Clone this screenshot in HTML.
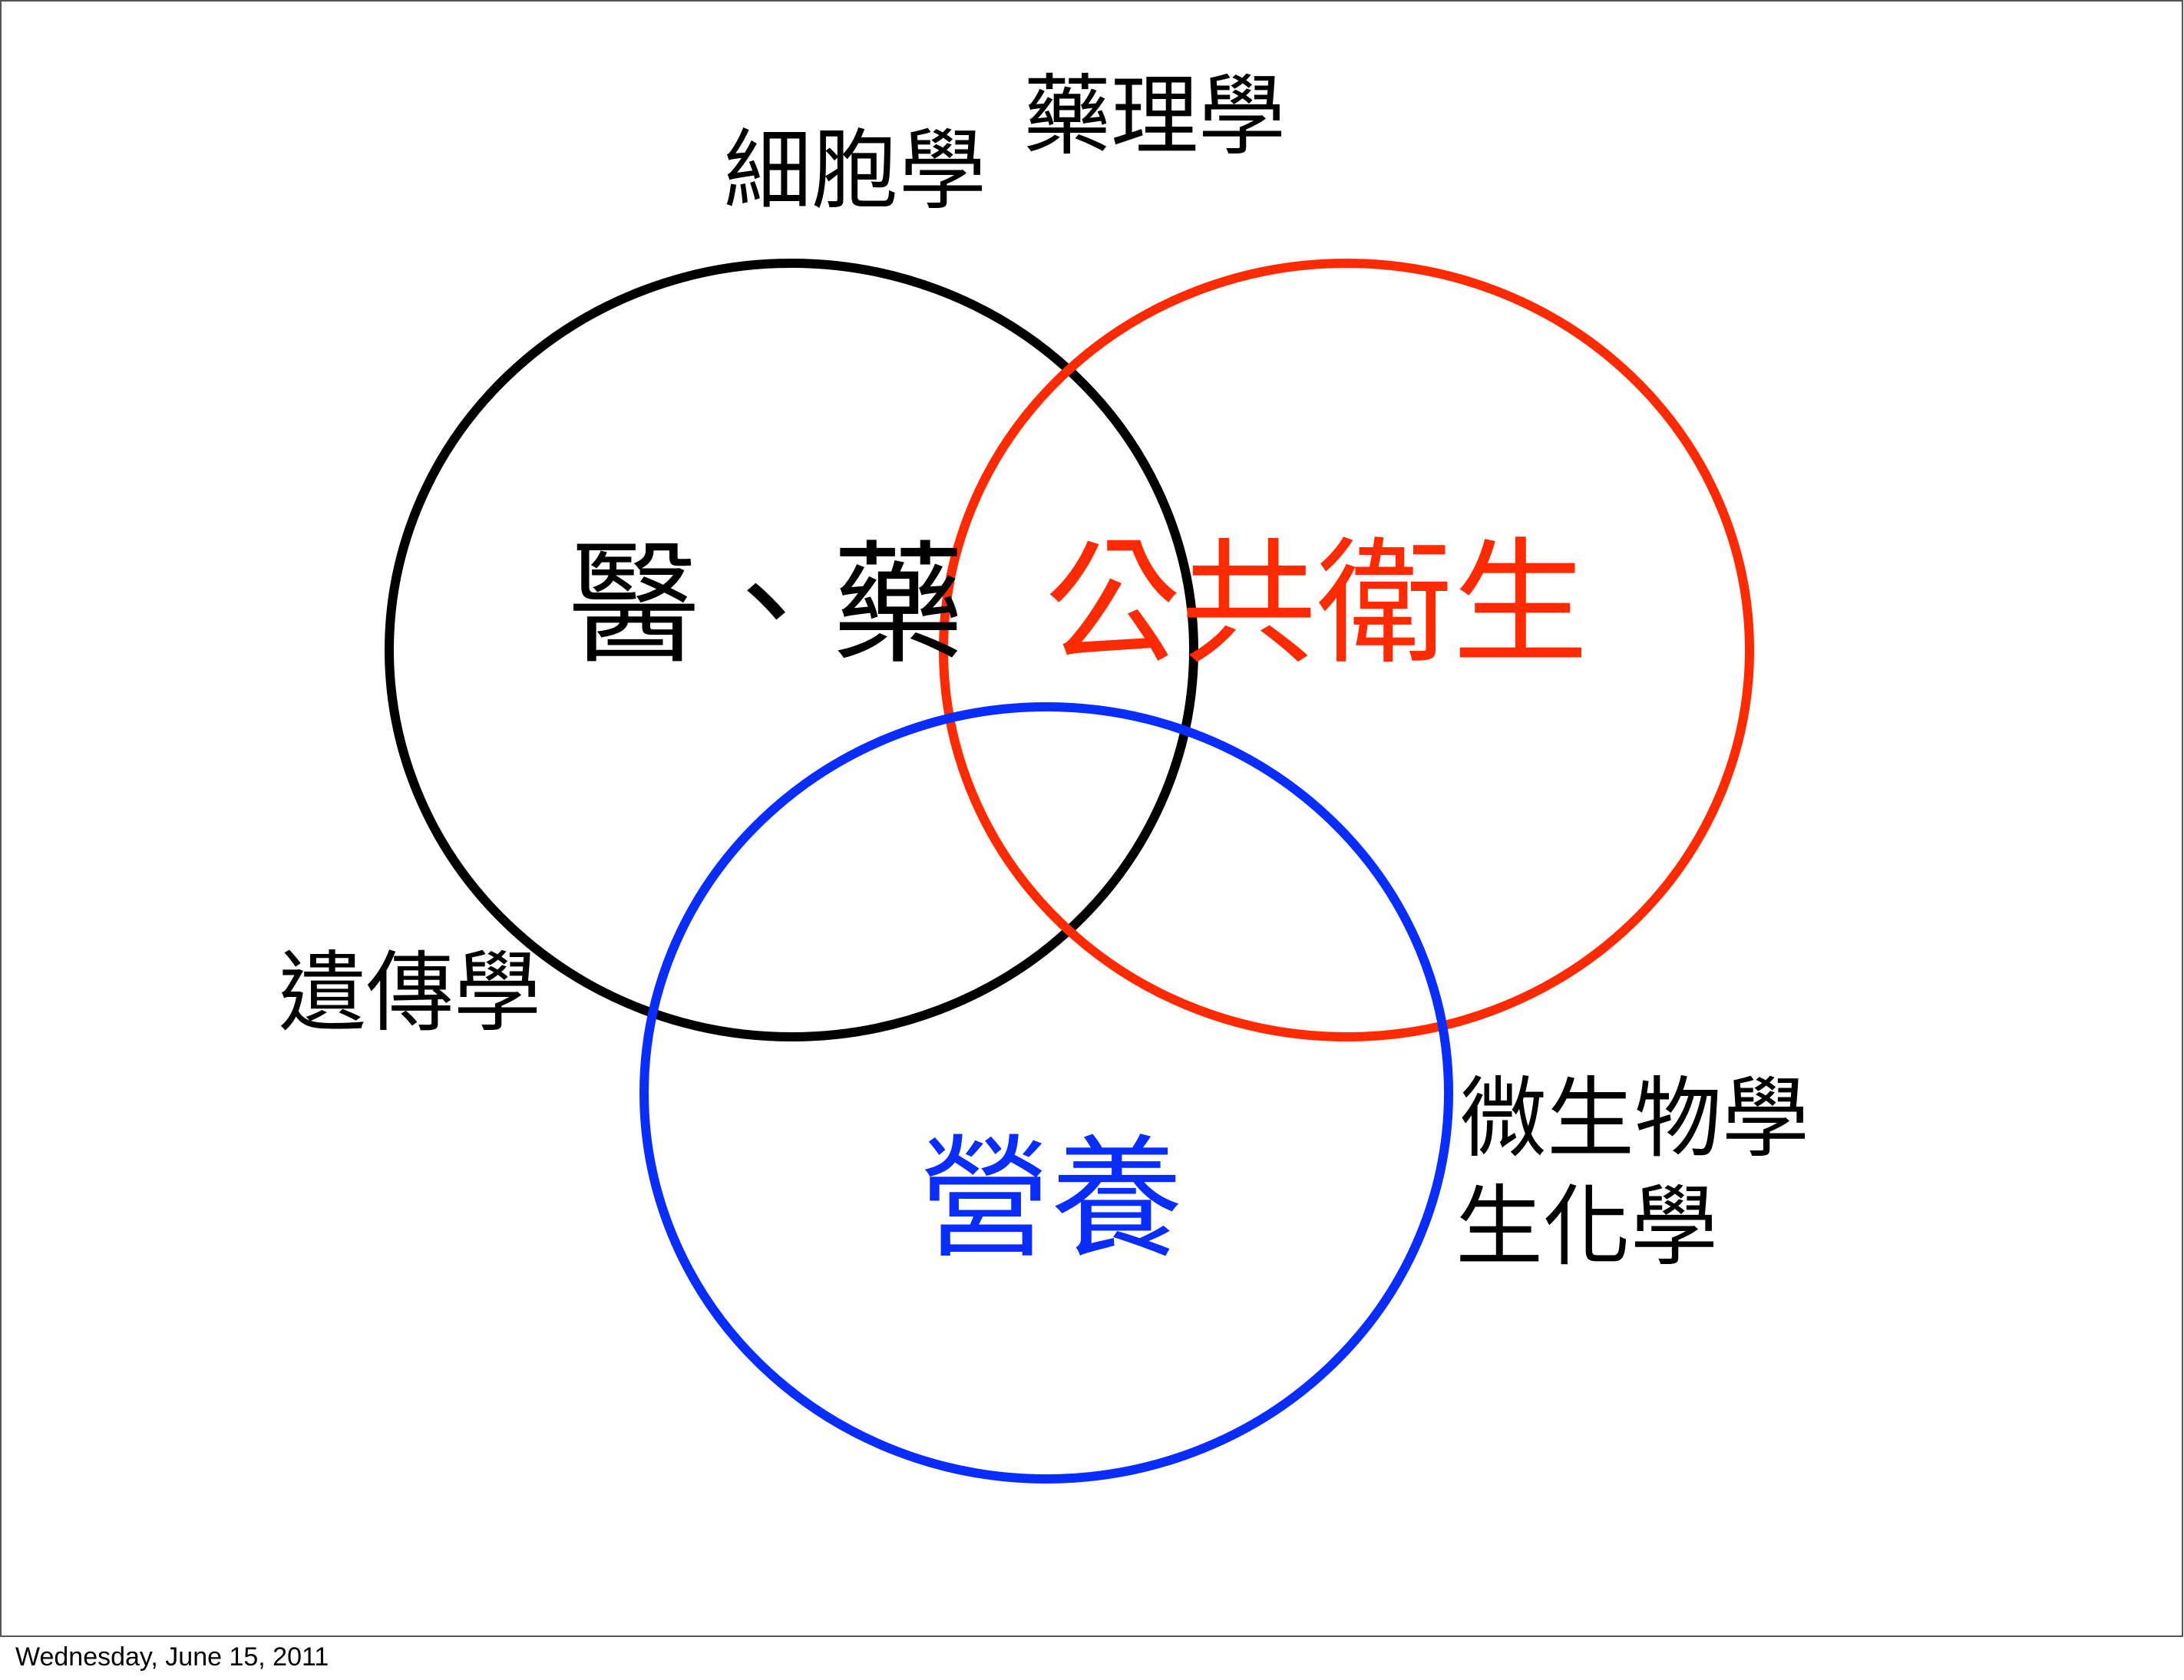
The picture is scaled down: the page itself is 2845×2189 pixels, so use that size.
<!DOCTYPE html>
<html><head><meta charset="utf-8"><style>
html,body{margin:0;padding:0;background:#fff;}
svg{display:block;}
text{font-family:"Liberation Sans","Noto Sans CJK TC",sans-serif;}
</style></head><body>
<svg width="2845" height="2189" viewBox="0 0 2845 2189" xmlns="http://www.w3.org/2000/svg">
<rect x="1" y="1" width="2842" height="2131" fill="#fff" stroke="#555" stroke-width="2"/>
<ellipse cx="1031" cy="847" rx="524" ry="504" fill="none" stroke="#000" stroke-width="12"/>
<ellipse cx="1754" cy="847" rx="525" ry="504" fill="none" stroke="#ff2a00" stroke-width="12"/>
<ellipse cx="1363" cy="1424" rx="524" ry="503" fill="none" stroke="#0a2dff" stroke-width="12"/>
<text x="740" y="848" font-size="172" fill="#000">醫、藥</text>
<text x="1361" y="848" font-size="177" fill="#ff2a00">公共衛生</text>
<text x="1197" y="1622" font-size="172" fill="#0a2dff">營養</text>
<text x="943" y="262" font-size="114" fill="#000">細胞學</text>
<text x="1333" y="191" font-size="114" fill="#000">藥理學</text>
<text x="363" y="1333" font-size="114" fill="#000">遺傳學</text>
<text x="1901" y="1497" font-size="114" fill="#000">微生物學</text>
<text x="1896" y="1638" font-size="114" fill="#000">生化學</text>
<text x="20" y="2170" font-size="34" fill="#000">Wednesday, June 15, 2011</text>
</svg>
</body></html>
